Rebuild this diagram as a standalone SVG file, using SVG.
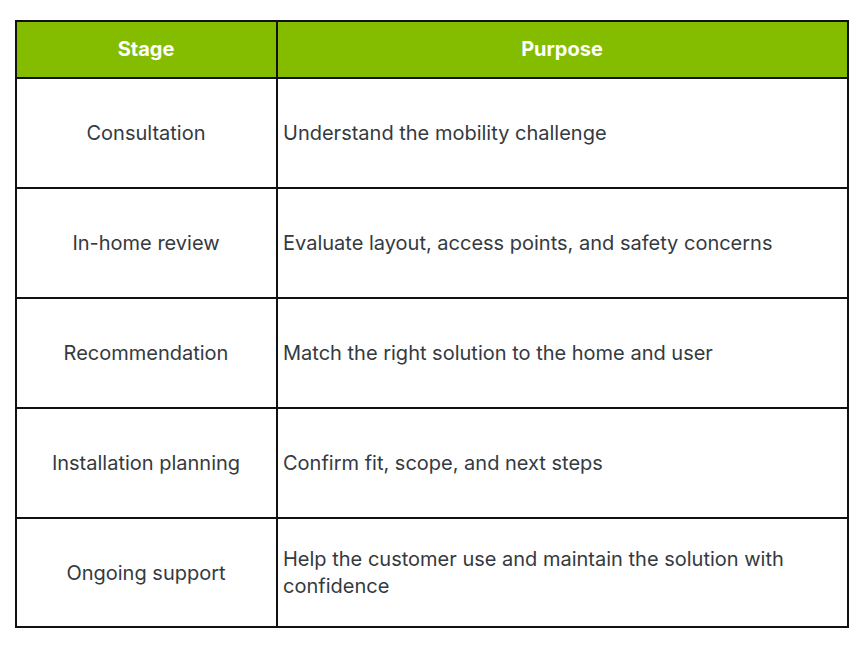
<svg xmlns="http://www.w3.org/2000/svg" width="864" height="648" viewBox="0 0 864 648">
<style>
.h{font-family:Inter,"Liberation Sans",sans-serif;font-size:20px;font-weight:bold;fill:#fff;text-anchor:middle}
.c{font-family:Inter,"Liberation Sans",sans-serif;font-size:20px;fill:#343a40}
.m{text-anchor:middle}
.l{fill:none;stroke:#111;stroke-width:2}
</style>
<rect width="864" height="648" fill="#fff"/>
<g id="header">
<rect x="16" y="21" width="832" height="57" fill="#84bd00"/>
<text class="h" x="146" y="56">Stage</text>
<text class="h" x="562" y="56">Purpose</text>
</g>
<g id="grid">
<rect class="l" x="16" y="21" width="832" height="606"/>
<path class="l" d="M277 21V627M16 78H848M16 188H848M16 298H848M16 408H848M16 518H848"/>
</g>
<g id="row1"><text class="c m" x="146" y="140">Consultation</text><text class="c" x="283" y="140">Understand the mobility challenge</text></g>
<g id="row2"><text class="c m" x="146" y="250">In-home review</text><text class="c" x="283" y="250">Evaluate layout, access points, and safety concerns</text></g>
<g id="row3"><text class="c m" x="146" y="360">Recommendation</text><text class="c" x="283" y="360">Match the right solution to the home and user</text></g>
<g id="row4"><text class="c m" x="146" y="470">Installation planning</text><text class="c" x="283" y="470">Confirm fit, scope, and next steps</text></g>
<g id="row5"><text class="c m" x="146" y="580">Ongoing support</text><text class="c" x="283" y="566">Help the customer use and maintain the solution with</text><text class="c" x="283" y="593">confidence</text></g>
</svg>
